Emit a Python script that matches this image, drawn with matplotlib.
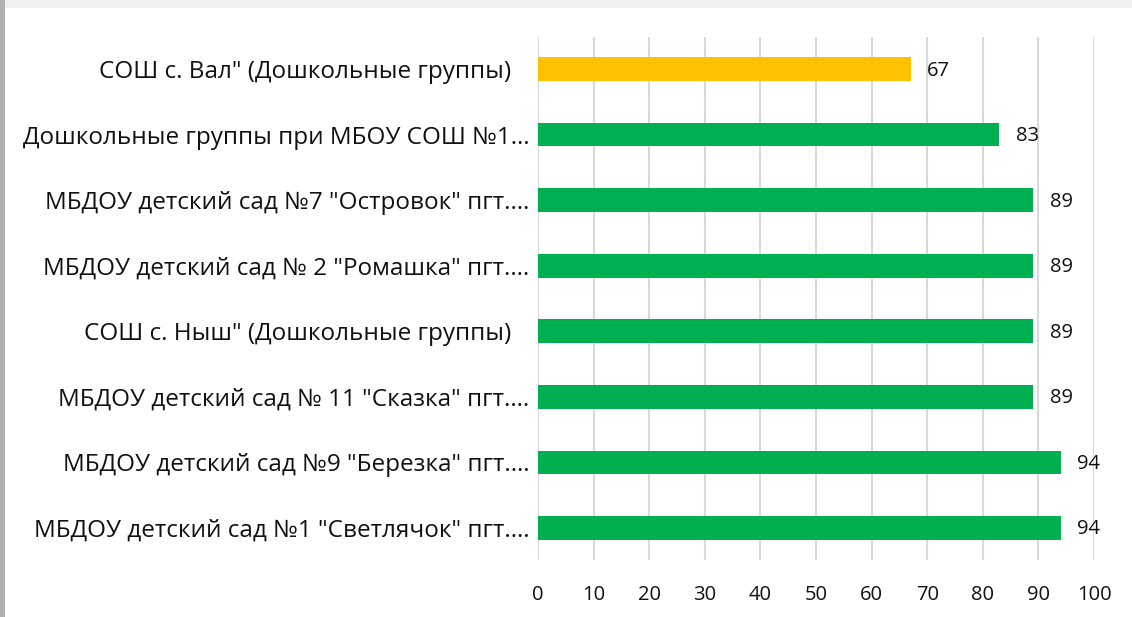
import matplotlib.pyplot as plt
from matplotlib.patches import Rectangle

plt.rcParams['font.family'] = ['Open Sans', 'DejaVu Sans']

# Data, top to bottom as in the chart
labels = [
    'СОШ с. Вал" (Дошкольные группы)   ',
    'Дошкольные группы при МБОУ СОШ №1…',
    'МБДОУ детский сад №7 "Островок" пгт.…',
    'МБДОУ детский сад № 2 "Ромашка" пгт.…',
    'СОШ с. Ныш" (Дошкольные группы)   ',
    'МБДОУ детский сад № 11 "Сказка" пгт.…',
    'МБДОУ детский сад №9 "Березка" пгт.…',
    'МБДОУ детский сад №1 "Светлячок" пгт.…',
]
values = [67, 83, 89, 89, 89, 89, 94, 94]
colors = ['#FFC000'] + ['#00B050'] * 7
x_ticks = list(range(0, 101, 10))

fig = plt.figure(figsize=(11.32, 6.17), dpi=100)
fig.patch.set_facecolor('white')

# light frame at the top and left edge of the slide
fig.add_artist(Rectangle((0, 1 - 8 / 617), 1, 8 / 617, transform=fig.transFigure,
                         facecolor='#efefef', edgecolor='none'))
fig.add_artist(Rectangle((0, 0), 5 / 1132, 1, transform=fig.transFigure,
                         facecolor='#b0b0b0', edgecolor='none'))

ax = fig.add_axes([538 / 1132, 1 - 560 / 617, (1094 - 538) / 1132, (560 - 37) / 617])

ypos = list(range(len(labels)))
ax.barh(ypos, values, height=0.36, color=colors, zorder=3)

for y, v in zip(ypos, values):
    ax.annotate(str(v), xy=(v, y), xytext=(12, -1), textcoords='offset points',
                va='center', ha='left', fontsize=14.5, color='#111111')

ax.set_xlim(0, 100)
ax.set_ylim(len(labels) - 0.51, -0.49)
ax.set_xticks(x_ticks)
ax.set_yticks(ypos)
ax.set_yticklabels(labels, fontsize=17.5, color='#111111')
ax.tick_params(axis='x', length=0, pad=18, labelsize=14.5, labelcolor='#111111')
ax.tick_params(axis='y', length=0, pad=6)
ax.grid(axis='x', color='#d9d9d9', linewidth=1.5, zorder=0)
for s in ax.spines.values():
    s.set_visible(False)

plt.savefig('out.png', dpi=100)
